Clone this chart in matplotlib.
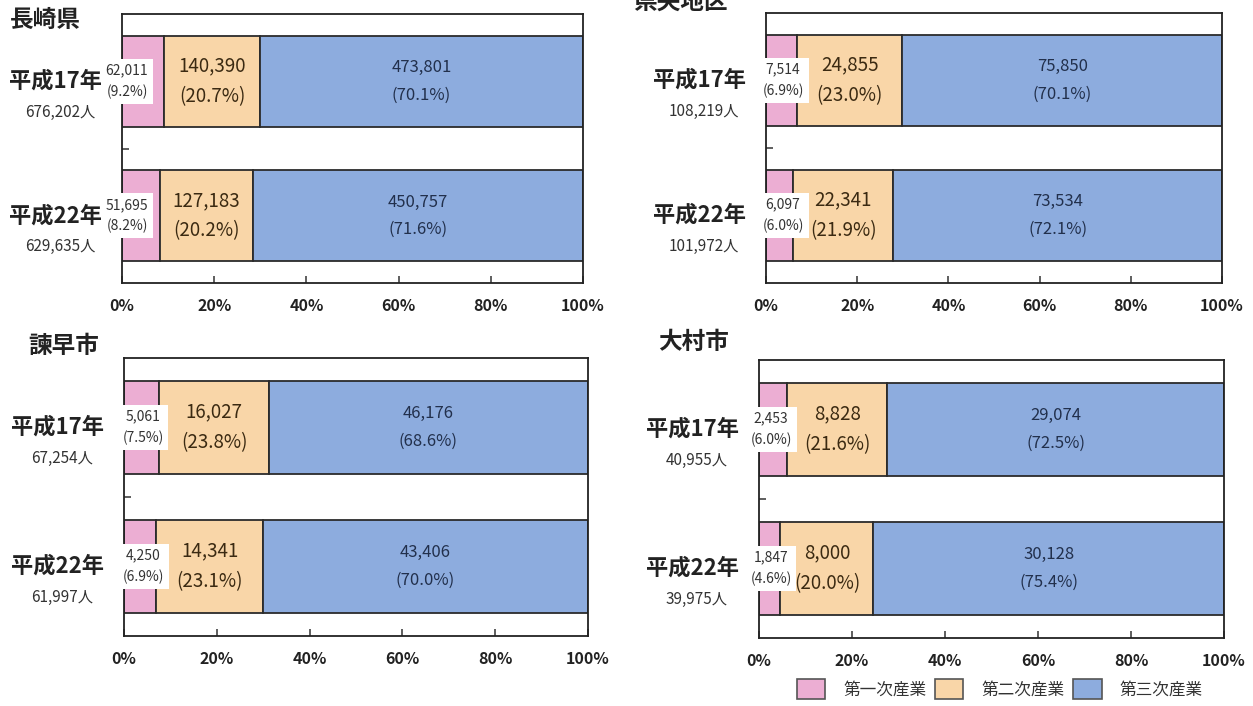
#!/usr/bin/env python3
# -*- coding: utf-8 -*-
"""
Industry structure of the working population (平成17年 / 平成22年),
shown as 100% stacked horizontal bars for four areas.
"""

import matplotlib
matplotlib.use("Agg")
import matplotlib.pyplot as plt
from matplotlib.patches import Patch

plt.rcParams['font.family'] = ['Noto Sans CJK JP', 'DejaVu Sans']

# ---------------------------------------------------------------------------
# Data
# ---------------------------------------------------------------------------
areas = ['長崎県', '県央地区', '諫早市', '大村市']
years = ['平成17年', '平成22年']
industries = ['第一次産業', '第二次産業', '第三次産業']

totals = [[676202, 629635], [108219, 101972], [67254, 61997], [40955, 39975]]

primary = [[62011, 51695], [7514, 6097], [5061, 4250], [2453, 1847]]
secondary = [[140390, 127183], [24855, 22341], [16027, 14341], [8828, 8000]]
tertiary = [[473801, 450757], [75850, 73534], [46176, 43406], [29074, 30128]]

primary_pct = [[9.2, 8.2], [6.9, 6.0], [7.5, 6.9], [6.0, 4.6]]
secondary_pct = [[20.7, 20.2], [23.0, 21.9], [23.8, 23.1], [21.6, 20.0]]
tertiary_pct = [[70.1, 71.6], [70.1, 72.1], [68.6, 70.0], [72.5, 75.4]]

# ---------------------------------------------------------------------------
# Styling / layout
# ---------------------------------------------------------------------------
W, H = 1253, 706
COLORS = ['#ecaed3', '#f9d6a8', '#8dacde']
EDGE = '#2b2b2b'
TEXT_SEC = '#3b2a12'
TEXT_TER = '#22304c'

# axes boxes in pixels: left, top, right, bottom
PANEL_BOX = [(122, 14, 583, 283), (766, 13, 1222, 283),
             (124, 358, 588, 636), (759, 360, 1224, 638)]
# title position in pixels: left, vertical centre
TITLE_POS = [(10, 20), (633, 2), (28, 346), (658, 342)]
# horizontal offset (px) of the small primary label box from the y axis
SMALL_OFFSET = [5, 17, 19, 12]


def px_rect(left, top, right, bottom):
    return [left / W, 1 - bottom / H, (right - left) / W, (bottom - top) / H]


def fmt(n):
    return f'{n:,}'


def draw_panel(fig, k):
    ax = fig.add_axes(px_rect(*PANEL_BOX[k]))
    ypos = [1, 0]  # 平成17年 on top

    for j, y in enumerate(ypos):
        shares = [primary_pct[k][j], secondary_pct[k][j], tertiary_pct[k][j]]
        left = 0.0
        for s, c in zip(shares, COLORS):
            ax.barh(y, s, left=left, height=0.675, color=c,
                    edgecolor=EDGE, linewidth=1.3, zorder=2)
            left += s

        # labels inside the secondary and tertiary segments
        p1, p2, p3 = shares
        ax.text(p1 + p2 / 2, y, f'{fmt(secondary[k][j])}\n({p2:.1f}%)',
                ha='center', va='center', fontsize=13.5, color=TEXT_SEC,
                linespacing=1.6, zorder=3)
        ax.text(p1 + p2 + p3 / 2, y, f'{fmt(tertiary[k][j])}\n({p3:.1f}%)',
                ha='center', va='center', fontsize=12, color=TEXT_TER,
                linespacing=1.8, zorder=3)

        # primary label in a white box on the left edge
        ax.annotate(f'{fmt(primary[k][j])}\n({p1:.1f}%)',
                    xy=(0, y), xycoords=('axes fraction', 'data'),
                    xytext=(SMALL_OFFSET[k], 0), textcoords='offset pixels',
                    ha='center', va='center', fontsize=10, color='#333333',
                    linespacing=1.6, zorder=4, annotation_clip=False,
                    bbox=dict(facecolor='white', edgecolor='none', pad=3.5))

        # year and total on the left
        ax.annotate(years[j], xy=(0, y), xycoords=('axes fraction', 'data'),
                    xytext=(-20, 0), textcoords='offset pixels',
                    ha='right', va='center', fontsize=16, fontweight='bold',
                    color='#222222', annotation_clip=False)
        ax.annotate(f'{fmt(totals[k][j])}人', xy=(0, y),
                    xycoords=('axes fraction', 'data'),
                    xytext=(-62, -31), textcoords='offset pixels',
                    ha='center', va='center', fontsize=11,
                    color='#333333', annotation_clip=False)

    ax.set_xlim(0, 100)
    ax.set_ylim(-0.5, 1.5)
    ax.set_xticks([0, 20, 40, 60, 80, 100])
    ax.set_xticklabels(['0%', '20%', '40%', '60%', '80%', '100%'],
                       fontsize=11.5, color='#222222', fontweight='bold')
    ax.set_yticks([0.5])
    ax.set_yticklabels([''])
    ax.tick_params(axis='both', direction='in', length=5, width=1.1,
                   color='#333333')
    ax.tick_params(axis='x', pad=11)
    for sp in ax.spines.values():
        sp.set_color('#222222')
        sp.set_linewidth(1.3)

    tx, ty = TITLE_POS[k]
    fig.text(tx / W, 1 - ty / H, areas[k], ha='left', va='center',
             fontsize=17, fontweight='bold', color='#222222')


def main():
    fig = plt.figure(figsize=(W / 100, H / 100), dpi=100)
    fig.patch.set_facecolor('white')

    for k in range(len(areas)):
        draw_panel(fig, k)

    handles = [Patch(facecolor=c, edgecolor='#555555', linewidth=1.2)
               for c in COLORS]
    fig.legend(handles, industries, loc='center',
               bbox_to_anchor=(1000 / W, 1 - 689 / H), ncol=3,
               frameon=False, fontsize=12, handlelength=1.7,
               handleheight=1.4, handletextpad=1.1, columnspacing=0.5,
               labelcolor='#333333')

    fig.savefig('out.png', dpi=100, facecolor='white')


if __name__ == '__main__':
    main()
